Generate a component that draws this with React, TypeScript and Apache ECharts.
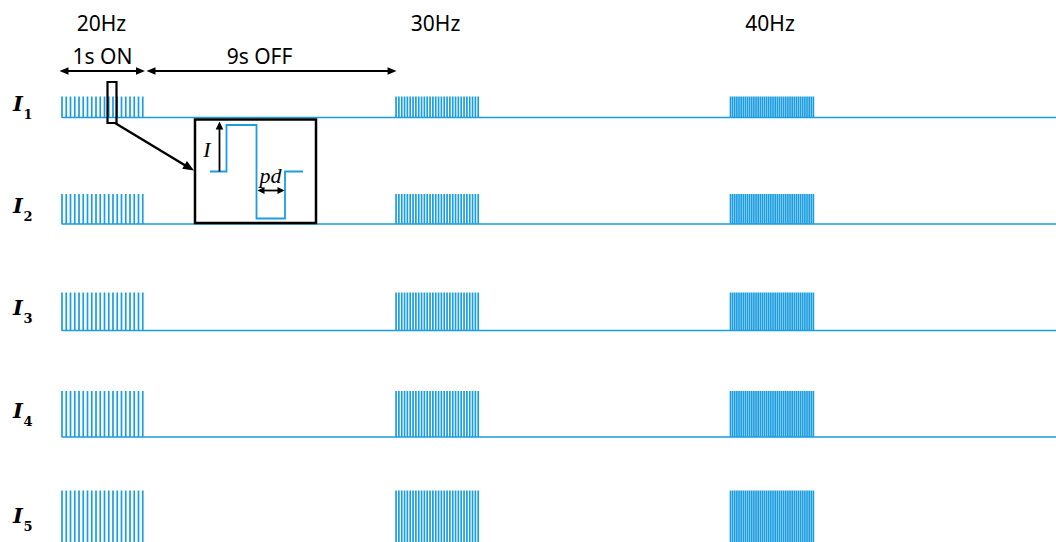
import { useEffect, useRef } from "react";
import * as echarts from "echarts";

// ---- data ----
const frequencies = [20, 30, 40]; // Hz of each stimulation train
const trainLabels = ["20Hz", "30Hz", "40Hz"];
const trainStarts = [0, 3.93, 7.865]; // schematic display position of each train (s units, OFF compressed)
const onDuration = 1; // s
const rowNames = ["1", "2", "3", "4", "5"];
const amplitudes = [21, 30, 38, 46, 54]; // relative current amplitude per channel
const onLabel = "1s ON";
const offLabel = "9s OFF";

// ---- layout ----
const W = 1056;
const H = 542;
const LEFT = 62;
const PX_PER_S = 85;
const XMAX = (W - LEFT) / PX_PER_S;
const ROW_BASE = [117.5, 224, 330.5, 437, 544.5];
const BAND = 60;
const BLUE = "#1b9de0";
const INK = "#000000";

const xPix = (t: number) => LEFT + t * PX_PER_S;

function rowData(a: number) {
  const pts: number[][] = [];
  frequencies.forEach((f, j) => {
    const n = Math.round(f * onDuration);
    for (let p = 0; p < n; p++) {
      const t = trainStarts[j] + p / f;
      pts.push([t, 0], [t, a], [t, 0]);
    }
  });
  pts.push([XMAX, 0]);
  return pts;
}

function head(tx: number, ty: number, dx: number, dy: number, len = 9, hw = 3.8) {
  const L = Math.hypot(dx, dy);
  const ux = dx / L, uy = dy / L;
  const bx = tx - ux * len, by = ty - uy * len;
  const px = -uy * hw, py = ux * hw;
  return {
    type: "polygon",
    shape: { points: [[tx, ty], [bx + px, by + py], [bx - px, by - py]] },
    style: { fill: INK },
    z: 20,
  };
}

function dblArrow(x1: number, x2: number, y: number, len = 9, hw = 3.8) {
  return [
    { type: "line", shape: { x1: x1 + 3, y1: y, x2: x2 - 3, y2: y }, style: { stroke: INK, lineWidth: 1.8 }, z: 20 },
    head(x1, y, -1, 0, len, hw),
    head(x2, y, 1, 0, len, hw),
  ];
}

export default function App() {
  const ref = useRef<HTMLDivElement>(null);
  useEffect(() => {
    if (!ref.current) return;
    const chart = echarts.init(ref.current, undefined, { renderer: "svg" });

    // keep each grid inside the canvas; a baseline below the canvas edge is reached via yAxis min
    const grids = ROW_BASE.map((b) => {
      const bottom = Math.min(b, H);
      return { left: LEFT, right: 0, top: b - BAND, height: bottom - (b - BAND), containLabel: false };
    });
    const xAxes = ROW_BASE.map((_, i) => ({ type: "value", gridIndex: i, min: 0, max: XMAX, show: false }));
    const yAxes = ROW_BASE.map((b, i) => ({ type: "value", gridIndex: i, min: b - Math.min(b, H), max: BAND, show: false }));
    const series = amplitudes.map((a, i) => ({
      type: "line",
      xAxisIndex: i,
      yAxisIndex: i,
      data: rowData(a),
      showSymbol: false,
      symbol: "none",
      clip: false,
      lineStyle: { color: BLUE, width: 1.7, join: "bevel" },
      silent: true,
    }));

    const graphics: any[] = [];
    trainLabels.forEach((lab, j) => {
      graphics.push({
        type: "text",
        x: xPix(trainStarts[j]) + 39.5,
        y: 23,
        style: { text: lab, fontSize: 21, fontFamily: "Noto Sans", fill: INK, align: "center", verticalAlign: "middle" },
      });
    });
    graphics.push({
      type: "text", x: 102.5, y: 56,
      style: { text: onLabel, fontSize: 21, fontFamily: "Noto Sans", fill: INK, align: "center", verticalAlign: "middle" },
    });
    graphics.push({
      type: "text", x: 259.5, y: 56,
      style: { text: offLabel, fontSize: 21, fontFamily: "Noto Sans", fill: INK, align: "center", verticalAlign: "middle" },
    });
    graphics.push(...dblArrow(xPix(0) - 2.5, xPix(onDuration) - 2, 71));
    graphics.push(...dblArrow(xPix(onDuration) - 0.5, xPix(trainStarts[1]) + 0.5, 71));

    amplitudes.forEach((a, i) => {
      const ym = ROW_BASE[i] - Math.min(a, 50) / 2 - 4;
      graphics.push({
        type: "text", x: 18, y: ym,
        style: { text: "I", fontSize: 21, fontStyle: "italic", fontWeight: "bold", fontFamily: "DejaVu Serif", fill: INK, align: "center", verticalAlign: "middle" },
      });
      graphics.push({
        type: "text", x: 28, y: ym + 11,
        style: { text: rowNames[i], fontSize: 13, fontWeight: "bold", fontFamily: "DejaVu Serif", fill: INK, align: "center", verticalAlign: "middle" },
      });
    });

    graphics.push({
      type: "rect", shape: { x: 107.5, y: 82, width: 9, height: 41 },
      style: { fill: "none", stroke: INK, lineWidth: 2.2 }, z: 15,
    });
    graphics.push({
      type: "line", shape: { x1: 115, y1: 123, x2: 187, y2: 166.5 },
      style: { stroke: INK, lineWidth: 2.4 }, z: 15,
    });
    graphics.push(head(194, 170.5, 78, 47, 11, 4.6));

    graphics.push({
      type: "rect", shape: { x: 195, y: 119.5, width: 121, height: 103.5 },
      style: { fill: "#ffffff", stroke: INK, lineWidth: 2.5 }, z: 15,
    });
    graphics.push({
      type: "polyline",
      shape: { points: [[210, 171.5], [226.5, 171.5], [226.5, 125], [256.5, 125], [256.5, 218.5], [285, 218.5], [285, 171.5], [303, 171.5]] },
      style: { stroke: BLUE, lineWidth: 1.8, fill: "none" }, z: 16,
    });
    graphics.push({
      type: "line", shape: { x1: 219.5, y1: 171.5, x2: 219.5, y2: 128 },
      style: { stroke: INK, lineWidth: 1.8 }, z: 20,
    });
    graphics.push(head(219.5, 121.5, 0, -1, 8, 3.8));
    graphics.push({
      type: "text", x: 207, y: 149,
      style: { text: "I", fontSize: 22, fontStyle: "italic", fontFamily: "Liberation Serif", fill: INK, align: "center", verticalAlign: "middle" },
      z: 20,
    });
    graphics.push(...dblArrow(257.5, 284.5, 190.5, 7, 3.6));
    graphics.push({
      type: "text", x: 270.5, y: 175,
      style: { text: "pd", fontSize: 22, fontStyle: "italic", fontFamily: "Liberation Serif", fill: INK, align: "center", verticalAlign: "middle" },
      z: 20,
    });

    chart.setOption({
      animation: false,
      backgroundColor: "#ffffff",
      grid: grids,
      xAxis: xAxes,
      yAxis: yAxes,
      series,
      graphic: { elements: graphics },
    } as any);

    return () => chart.dispose();
  }, []);

  return (
    <div
      ref={ref}
      style={{ position: "absolute", left: 0, top: 0, width: W, height: H }}
    />
  );
}
